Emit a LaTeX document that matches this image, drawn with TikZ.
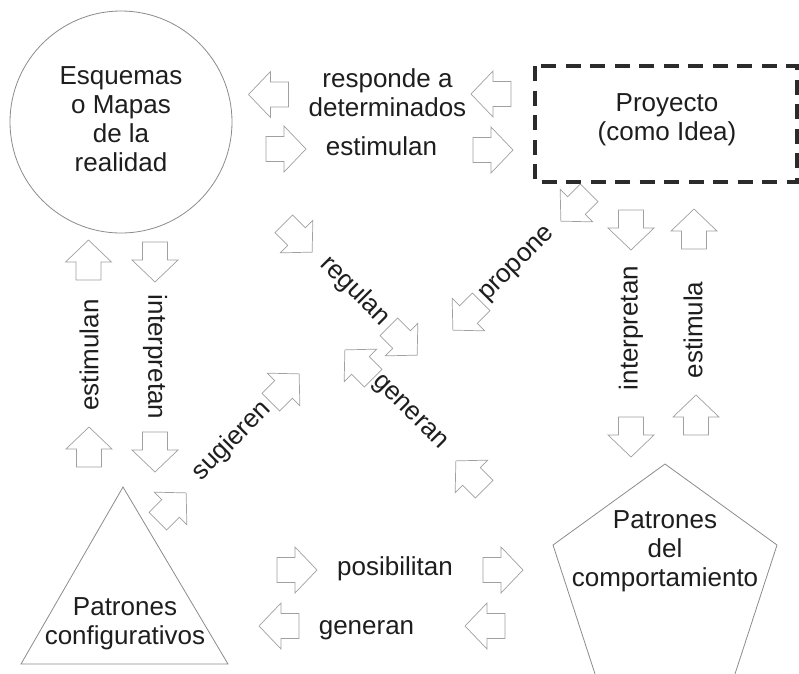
\documentclass[tikz,border=0pt]{standalone}
\usepackage{fontspec}
\setmainfont{Liberation Sans}
\definecolor{txt}{HTML}{1E1E1E}
\definecolor{shp}{HTML}{8C8C8C}
\definecolor{arw}{HTML}{A0A0A0}
\definecolor{dsh}{HTML}{2B2B2B}
\begin{document}
\begin{tikzpicture}[x=1pt,y=-1pt,
  lbl/.style={font=\fontsize{26}{29}\selectfont, text=txt, inner sep=0pt, align=center},
  shapeline/.style={draw=shp, line width=0.8pt},
  arrowline/.style={draw=arw, line width=0.7pt, fill=white, line join=miter},
  barrow/.pic={\path[arrowline] (20,0) -- (-2,-23) -- (-2,-12.5) -- (-20,-12.5) -- (-20,12.5) -- (-2,12.5) -- (-2,23) -- cycle;}
]
\useasboundingbox (0,0) rectangle (799,673);
\fill[white] (0,0) rectangle (799,673);

% main shapes
\draw[shapeline] (121,122) circle[radius=111];
\draw[draw=dsh, line width=3.2pt, dash pattern=on 15pt off 9.5pt] (535,66) rectangle (797,182);
\draw[shapeline] (123,487) -- (21,664) -- (228,664) -- cycle;
\draw[shapeline] (665,464) -- (777,545) -- (734,677) -- (596,677) -- (553,545) -- cycle;

% main texts
\node[lbl] (esq) at (121,119) {Esquemas\\o Mapas\\de la\\realidad};
\node[lbl] (proy) at (667,120) {Proyecto\\(como Idea)};
\node[lbl] (pconf) at (125,623.5) {Patrones\\configurativos};
\node[lbl] (pcomp) at (665,551) {Patrones\\del\\comportamiento};

% labels
\node[lbl] (lresp) at (387.5,92.7) {responde a\\determinados};
\node[lbl, anchor=base] (lestim) at (381.5,155) {estimulan};
\node[lbl, anchor=base] (lposib) at (395,575) {posibilitan};
\node[lbl, anchor=base] (lgen) at (366.5,634) {generan};
\node[lbl, rotate=-45] (lreg) at (355,291) {regulan};
\node[lbl, rotate=-45] (lgen2) at (409,413) {generan};
\node[lbl, rotate=45] (lprop) at (518,265) {propone};
\node[lbl, rotate=45] (lsug) at (232,441) {sugieren};
\node[lbl, rotate=90] (lestl) at (89,355) {estimulan};
\node[lbl, rotate=-90] (linl) at (155,357) {interpretan};
\node[lbl, rotate=90] (linr) at (631,328) {interpretan};
\node[lbl, rotate=90] (lestr) at (693,330) {estimula};

% block arrows
\pic[rotate=180] (a1) at (268.5,94.5) {barrow};
\pic[rotate=0] (a2) at (286,149) {barrow};
\pic[rotate=180] (a3) at (491,94) {barrow};
\pic[rotate=0] (a4) at (493,150) {barrow};
\pic[rotate=-45] (a5) at (298,238) {barrow};
\pic[rotate=-45] (a6) at (403,341) {barrow};
\pic[rotate=225] (a7) at (575,207) {barrow};
\pic[rotate=225] (a8) at (467,316) {barrow};
\pic[rotate=-90] (a9) at (631,230) {barrow};
\pic[rotate=90] (a10) at (694,229) {barrow};
\pic[rotate=-90] (a11) at (631,437) {barrow};
\pic[rotate=90] (a12) at (696,415) {barrow};
\pic[rotate=90] (a13) at (88.5,260) {barrow};
\pic[rotate=-90] (a14) at (155,262) {barrow};
\pic[rotate=90] (a15) at (89,447) {barrow};
\pic[rotate=-90] (a16) at (155,452) {barrow};
\pic[rotate=45] (a17) at (172,507) {barrow};
\pic[rotate=45] (a18) at (285,388) {barrow};
\pic[rotate=135] (a19) at (359,364) {barrow};
\pic[rotate=135] (a20) at (470,475) {barrow};
\pic[rotate=0] (a21) at (297,570) {barrow};
\pic[rotate=0] (a22) at (503,570) {barrow};
\pic[rotate=180] (a23) at (279,626) {barrow};
\pic[rotate=180] (a24) at (485,626) {barrow};
\end{tikzpicture}
\end{document}
